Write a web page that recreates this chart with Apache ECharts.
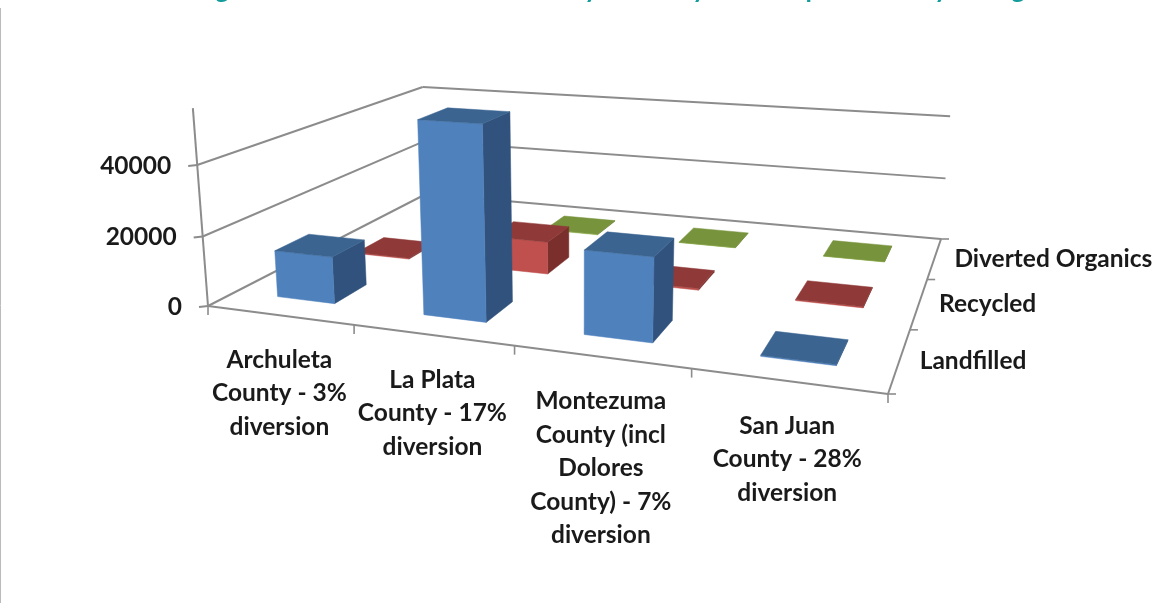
<!DOCTYPE html>
<html>
<head>
<meta charset="utf-8">
<style>html,body{margin:0;padding:0;background:#fff}#c{width:1158px;height:603px;filter:blur(0.7px)}</style>
<script src="https://cdn.jsdelivr.net/npm/echarts@6/dist/echarts.min.js"></script>
</head>
<body>
<div id="c"></div>
<script>
// ---- data ----
const categories = [
  'Archuleta\nCounty - 3%\ndiversion',
  'La Plata\nCounty - 17%\ndiversion',
  'Montezuma\nCounty (incl\nDolores\nCounty) - 7%\ndiversion',
  'San Juan\nCounty - 28%\ndiversion'
];
const seriesNames = ['Landfilled', 'Recycled', 'Diverted Organics'];
const landfilled = [13500, 53500, 22700, 300];
const recycled = [300, 9800, 500, 300];
const divertedOrganics = [100, 200, 100, 100];
const valueTicks = [0, 20000, 40000];
const titleGlyphs = ['g', 'y', 'y', 'p', 'y', 'g'];

// ---- styles ----
const faces = [
  { front: '#4F81BD', top: '#3B6491', side: '#31527C' },
  { front: '#C0504D', top: '#8F3A38', side: '#7A2F2D' },
  { front: '#9BBB59', top: '#77933C', side: '#62792F' }
];
const LINE = '#8C8C8C';
const FONT = 'Lato';
const TEXT = { fontFamily: FONT, fontSize: 24.5, fontWeight: 700, fill: '#1a1a1a' };

// ---- oblique view: maps floor (u across counties, v into depth) plus height to the page ----
const floor = [[208, 306], [888, 394], [941, 239], [426, 194]];
const vanish = [577, 5130];
const lift = -0.0284;
const unitValue = 40000;
const wallTop = 55500;
const barShare = 0.4;

const view = (function () {
  const [p0, p1, p2, p3] = floor;
  const dx1 = p1[0] - p2[0], dx2 = p3[0] - p2[0], sx = p0[0] - p1[0] + p2[0] - p3[0];
  const dy1 = p1[1] - p2[1], dy2 = p3[1] - p2[1], sy = p0[1] - p1[1] + p2[1] - p3[1];
  const den = dx1 * dy2 - dx2 * dy1;
  const g = (sx * dy2 - dx2 * sy) / den, h = (dx1 * sy - sx * dy1) / den;
  const a = p1[0] - p0[0] + g * p1[0], b = p3[0] - p0[0] + h * p3[0], c = p0[0];
  const d = p1[1] - p0[1] + g * p1[1], e = p3[1] - p0[1] + h * p3[1], f = p0[1];
  return function (u, v, w) {
    const W = g * u + h * v + 1 + w * lift;
    return [(a * u + b * v + c + w * lift * vanish[0]) / W,
            (d * u + e * v + f + w * lift * vanish[1]) / W];
  };
})();

// read a value through the hidden value axis, a county through the hidden category axis
function heightOf(api, value) {
  const zero = api.coord([0, 0])[1];
  return (zero - api.coord([0, value])[1]) / (zero - api.coord([0, unitValue])[1]);
}
function uOf(api, rect, index) {
  return (api.coord([index, 0])[0] - rect.x) / rect.width;
}

function poly(points, fill) {
  return { type: 'polygon', shape: { points }, style: { fill, stroke: fill, lineWidth: 0.5 } };
}
function seg(a, b, width) {
  return { type: 'line', shape: { x1: a[0], y1: a[1], x2: b[0], y2: b[1] }, style: { stroke: LINE, lineWidth: width || 2, fill: null } };
}
function label(text, x, y, align, vAlign, lineHeight) {
  return { type: 'text', style: Object.assign({}, TEXT, { text, x, y, align, verticalAlign: vAlign, lineHeight }) };
}

function barSeries(name, values, row) {
  return {
    name, type: 'custom', coordinateSystem: 'cartesian2d', clip: false, silent: true, z: 3 + (2 - row),
    data: values.map((v, i) => [i, v]),
    renderItem(params, api) {
      const rect = params.coordSys;
      const i = api.value(0);
      const h = heightOf(api, api.value(1));
      const uc = uOf(api, rect, i), du = (api.size([1, 0])[0] / rect.width) * barShare / 2;
      const vc = (row + 0.5) / seriesNames.length, dv = (barShare / 2) / seriesNames.length;
      const u0 = uc - du, u1 = uc + du, v0 = vc - dv, v1 = vc + dv;
      const c = faces[row];
      return { type: 'group', children: [
        poly([view(u1, v0, 0), view(u1, v1, 0), view(u1, v1, h), view(u1, v0, h)], c.side),
        poly([view(u0, v0, 0), view(u1, v0, 0), view(u1, v0, h), view(u0, v0, h)], c.front),
        poly([view(u0, v0, h), view(u1, v0, h), view(u1, v1, h), view(u0, v1, h)], c.top)
      ] };
    }
  };
}

const frameSeries = {
  type: 'custom', coordinateSystem: 'cartesian2d', clip: false, silent: true, z: 1,
  data: [[0, 0]],
  renderItem(params, api) {
    const rect = params.coordSys;
    const kids = [];
    // walls
    valueTicks.forEach(t => {
      const h = heightOf(api, t);
      const fl = view(0, 0, h), bl = view(0, 1, h), br = view(1, 1, h);
      kids.push(seg(fl, bl), seg(bl, br));
      kids.push(seg([fl[0] - 9, fl[1] + 1], fl));
      kids.push(label(String(t), fl[0] - 26, fl[1] + 1, 'right', 'middle'));
    });
    // axes
    kids.push(seg(view(0, 0, 0), view(0, 0, heightOf(api, wallTop))));
    kids.push(seg(view(0, 0, 0), view(1, 0, 0)));
    kids.push(seg(view(1, 0, 0), view(1, 1, 0)));
    // county ticks and labels
    const n = categories.length;
    for (let i = 0; i <= n; i++) {
      const p = view(i / n, 0, 0);
      kids.push(seg(p, [p[0], p[1] + 9], 1.6));
    }
    categories.forEach((name, i) => {
      const p = view(uOf(api, rect, i), 0, 0);
      kids.push(label(name, p[0], p[1] + 28, 'center', 'top', 33.5));
    });
    // depth ticks and labels
    const m = seriesNames.length;
    for (let j = 0; j <= m; j++) {
      const p = view(1, j / m, 0);
      kids.push(seg(p, [p[0] + 8, p[1]], 1.6));
    }
    seriesNames.forEach((name, j) => {
      const p = view(1, (j + 0.5) / m, 0);
      kids.push(label(name, p[0] + 20, p[1] + 1, 'left', 'middle'));
    });
    return { type: 'group', children: kids };
  }
};

const chart = echarts.init(document.getElementById('c'), null, { renderer: 'canvas' });
const titleX = [222, 591, 699, 813, 941, 1018];
chart.setOption({
  animation: false,
  backgroundColor: '#fff',
  grid: { left: 0, right: 0, top: 0, bottom: 0, containLabel: false },
  xAxis: { type: 'category', data: categories, show: false },
  yAxis: { type: 'value', min: 0, max: 60000, interval: 20000, show: false },
  series: [
    frameSeries,
    barSeries(seriesNames[2], divertedOrganics, 2),
    barSeries(seriesNames[1], recycled, 1),
    barSeries(seriesNames[0], landfilled, 0)
  ],
  graphic: [
    { type: 'line', shape: { x1: 0.5, y1: 8, x2: 0.5, y2: 603 }, style: { stroke: '#BBBBBB', lineWidth: 1 } }
  ].concat(titleGlyphs.map((g, i) => ({
    type: 'text', x: titleX[i], y: 3,
    style: { text: g, fontFamily: FONT, fontSize: 26, fontWeight: 700, fill: '#159C9C', align: 'center', verticalAlign: 'bottom' }
  })))
});
</script>
</body>
</html>
